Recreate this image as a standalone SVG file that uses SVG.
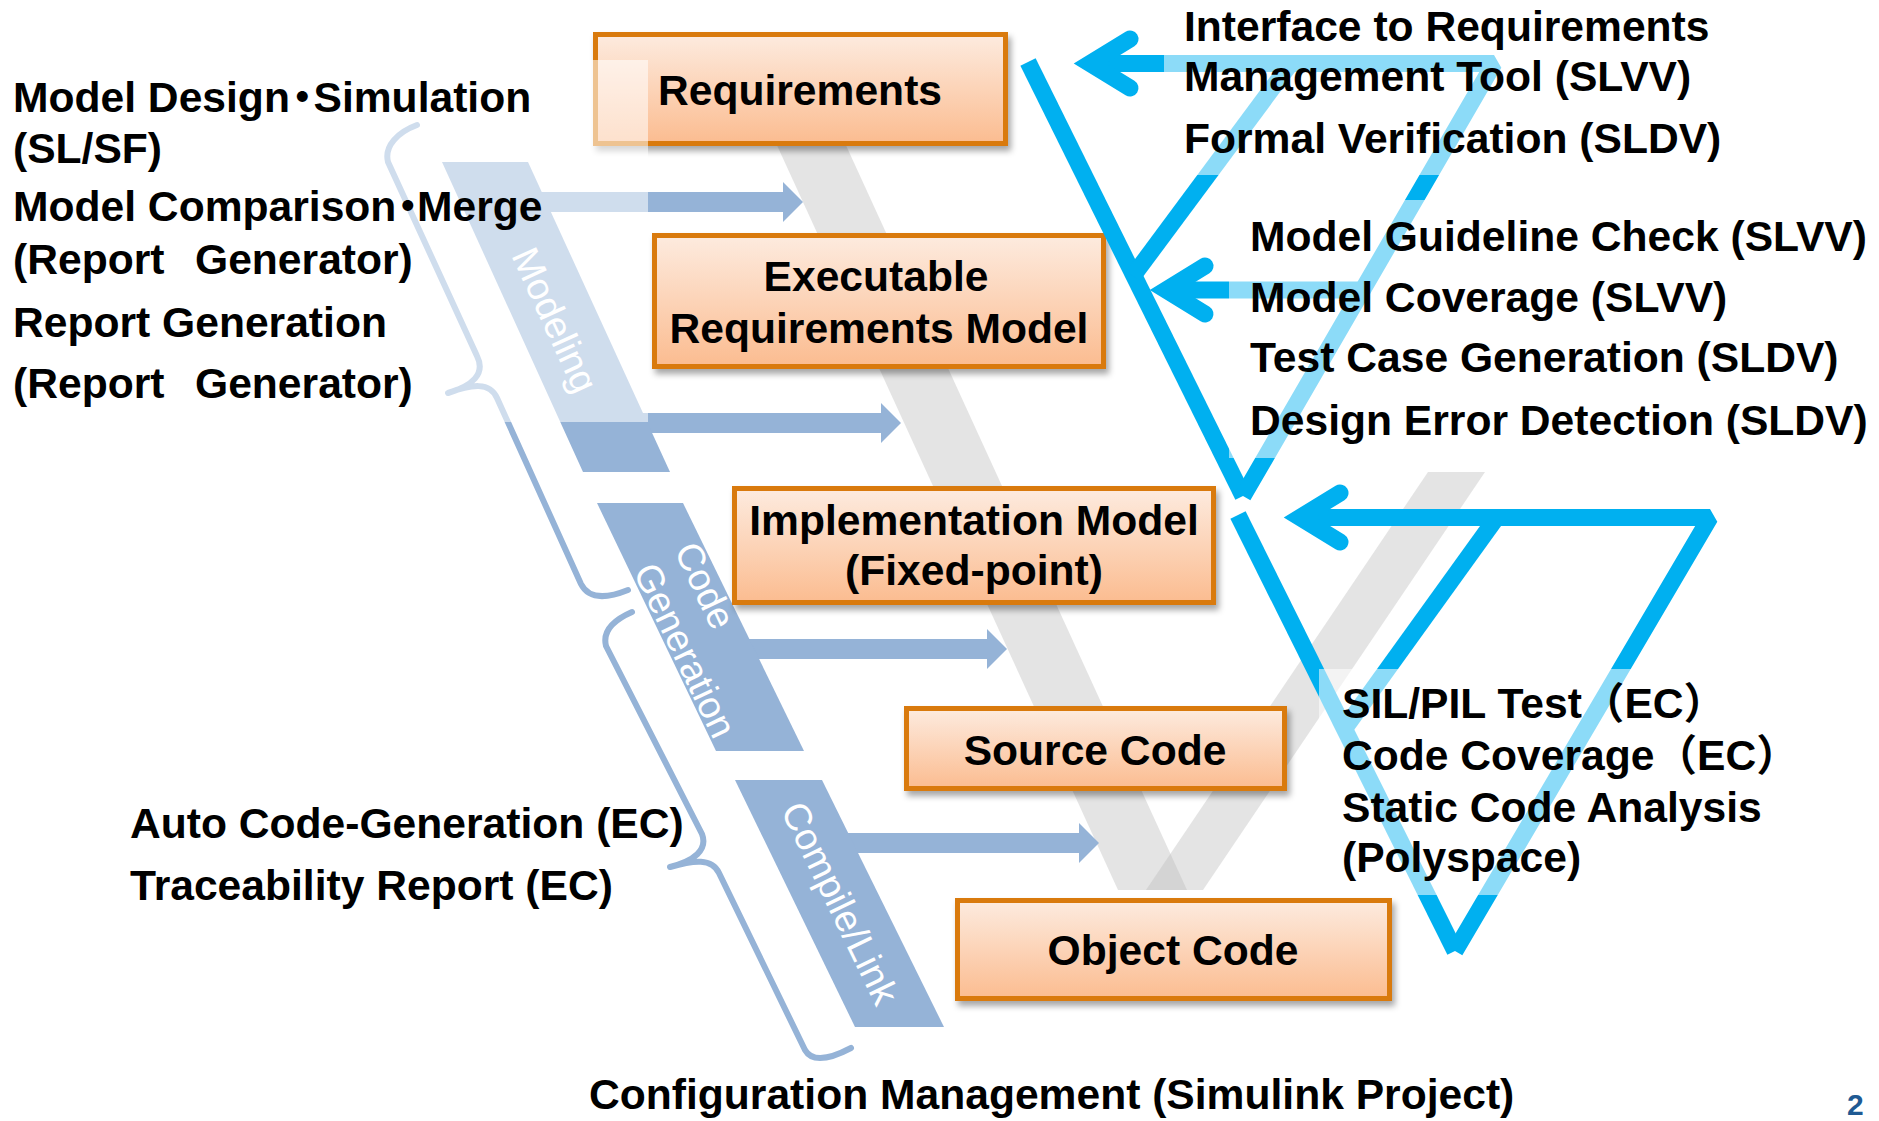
<svg xmlns="http://www.w3.org/2000/svg" width="1879" height="1121" viewBox="0 0 1879 1121">
<defs>
<linearGradient id="boxGrad" x1="0" y1="0" x2="0" y2="1">
<stop offset="0" stop-color="#FDEBDF"/>
<stop offset="1" stop-color="#FBBC90"/>
</linearGradient>
<filter id="shadow" x="-10%" y="-10%" width="130%" height="145%">
<feDropShadow dx="3" dy="5" stdDeviation="3" flood-color="#000" flood-opacity="0.35"/>
</filter>
<style>
.box { fill: url(#boxGrad); stroke: #D97A0A; stroke-width: 5; filter: url(#shadow); }
.bt { font-family: "Liberation Sans", Arial, "Noto Sans CJK JP", sans-serif; font-weight: bold; font-size: 42.6px; fill: #000; }
.mid { text-anchor: middle; }
.bar { fill: #95B3D7; }
.barText { font-family: "Liberation Sans", Arial, sans-serif; font-size: 38px; fill: #fff; text-anchor: middle; }
.gray { fill: #BFBFBF; fill-opacity: 0.42; }
.brace { fill: none; stroke: #95B3D7; stroke-width: 6; stroke-linecap: round; stroke-linejoin: round; }
.cy { fill: none; stroke: #00B0F0; stroke-width: 17; }
.head { fill: none; stroke: #00B0F0; stroke-width: 17; stroke-linecap: round; stroke-linejoin: miter; stroke-miterlimit: 10; }
.veil { fill: #fff; fill-opacity: 0.55; }
</style>
</defs>
<rect width="1879" height="1121" fill="#fff"/>

<g id="gray-v">
<polygon class="gray" points="770,130 839,130 1187,890 1118,890"/>
<polygon class="gray" points="1428,472 1485,472 1203,890 1146,890"/>
</g>

<g id="connectors">
<g id="phase-arrows" class="bar">
<path d="M540,192 H783 V182 L803,202 L783,222 V212 H540 Z"/>
<path d="M640,413 H881 V403 L901,423 L881,443 V433 H640 Z"/>
<path d="M740,639 H987 V629 L1007,649 L987,669 V659 H740 Z"/>
<path d="M845,833 H1079 V823 L1099,843 L1079,863 V853 H845 Z"/>
</g>
</g>

<g id="phase-modeling">
<polygon class="bar" points="442,162 528,162 670,472 583,472"/>
<text class="barText" transform="translate(555,320) rotate(65.4)" y="13">Modeling</text>
</g>
<g id="phase-codegen">
<polygon class="bar" points="597,503 683,503 804,751 716,751"/>
<g transform="translate(695,618) rotate(64.5)">
<text class="barText" x="-25" y="-10">Code</text>
<text class="barText" x="25" y="36">Generation</text>
</g>
</g>
<g id="phase-compile">
<polygon class="bar" points="735,780 822,780 944,1027 855,1027"/>
<text class="barText" transform="translate(840,903) rotate(64.1)" y="13">Compile/Link</text>
</g>

<g id="braces">
<path class="brace" d="M417,125 C398,132 384,146 388,162 L477,356 C486,374 472,386 448,393 C472,384 490,382 497,398 L581,584 C589,600 608,598 628,590"/>
<path class="brace" d="M632,612 C616,619 602,630 606,646 L702,834 C708,850 694,861 670,867 C694,860 712,858 719,873 L805,1050 C813,1064 832,1058 851,1048"/>
</g>

<g id="node-requirements">
<rect class="box" x="595.5" y="34.5" width="410" height="109"/>
<text class="bt mid" x="800" y="105">Requirements</text>
</g>
<g id="node-executable">
<rect class="box" x="654.5" y="235.5" width="449" height="131"/>
<text class="bt mid" x="876" y="291">Executable</text>
<text class="bt mid" x="879" y="343">Requirements Model</text>
</g>
<g id="node-implementation">
<rect class="box" x="734.5" y="488.5" width="479" height="114"/>
<text class="bt mid" x="974" y="535">Implementation Model</text>
<text class="bt mid" x="974" y="585">(Fixed-point)</text>
</g>
<g id="node-source">
<rect class="box" x="906.5" y="708.5" width="378" height="80"/>
<text class="bt mid" x="1095" y="765">Source Code</text>
</g>
<g id="node-object">
<rect class="box" x="957.5" y="900.5" width="432" height="98"/>
<text class="bt mid" x="1173" y="965">Object Code</text>
</g>

<rect id="overlay-left" class="veil" x="340" y="60" width="308" height="362"/>

<g id="verification-lines">
<path class="cy" d="M1028,62 L1243,496"/>
<path class="cy" d="M1090,63.5 L1494,63.5 L1243,496" stroke-linejoin="bevel"/>
<path class="cy" d="M1133,276 L1291,63"/>
<path class="head" d="M1130,39 L1090,63.5 L1130,88"/>
<path class="cy" d="M1166,290 L1362,290"/>
<path class="head" d="M1205,266 L1166,290 L1205,314"/>
<path class="cy" d="M1238,515 L1455,951"/>
<path class="cy" d="M1300,517.5 L1710,517.5 L1455,951" stroke-linejoin="bevel"/>
<path class="cy" d="M1497,517 L1345,728"/>
<path class="head" d="M1340,493 L1300,517.5 L1340,542"/>
</g>

<g id="veils">
<rect class="veil" x="1164" y="0" width="600" height="175"/>
<rect class="veil" x="1229" y="200" width="650" height="258"/>
<rect class="veil" x="1319" y="669" width="500" height="226"/>
</g>

<g id="labels-left">
<text class="bt" x="13" y="112">Model Desig<tspan letter-spacing="-9">n</tspan><tspan letter-spacing="-10">・</tspan>Simulation</text>
<text class="bt" x="13" y="163">(SL/SF)</text>
<text class="bt" x="13" y="221">Model Compariso<tspan letter-spacing="-10">n</tspan><tspan letter-spacing="-12">・</tspan>Merge</text>
<text class="bt" x="13" y="274">(Report<tspan letter-spacing="-12">　</tspan>Generator)</text>
<text class="bt" x="13" y="337">Report Generation</text>
<text class="bt" x="13" y="398">(Report<tspan letter-spacing="-12">　</tspan>Generator)</text>
<text class="bt" x="130" y="838">Auto Code-Generation (EC)</text>
<text class="bt" x="130" y="900">Traceability Report (EC)</text>
</g>
<g id="labels-right">
<text class="bt" x="1184" y="41">Interface to Requirements</text>
<text class="bt" x="1184" y="91">Management Tool (SLVV)</text>
<text class="bt" x="1184" y="153">Formal Verification (SLDV)</text>
<text class="bt" x="1250" y="251">Model Guideline Check (SLVV)</text>
<text class="bt" x="1250" y="312">Model Coverage (SLVV)</text>
<text class="bt" x="1250" y="372">Test Case Generation (SLDV)</text>
<text class="bt" x="1250" y="435">Design Error Detection (SLDV)</text>
<text class="bt" x="1342" y="718">SIL/PIL Test（EC）</text>
<text class="bt" x="1342" y="770">Code Coverage（EC）</text>
<text class="bt" x="1342" y="822">Static Code Analysis</text>
<text class="bt" x="1342" y="872">(Polyspace)</text>
</g>
<text id="label-bottom" class="bt" x="589" y="1109">Configuration Management (Simulink Project)</text>
<text id="page-number" x="1847" y="1115" font-family="Liberation Sans, Arial, sans-serif" font-weight="bold" font-size="30" fill="#1F5A93">2</text>
</svg>
